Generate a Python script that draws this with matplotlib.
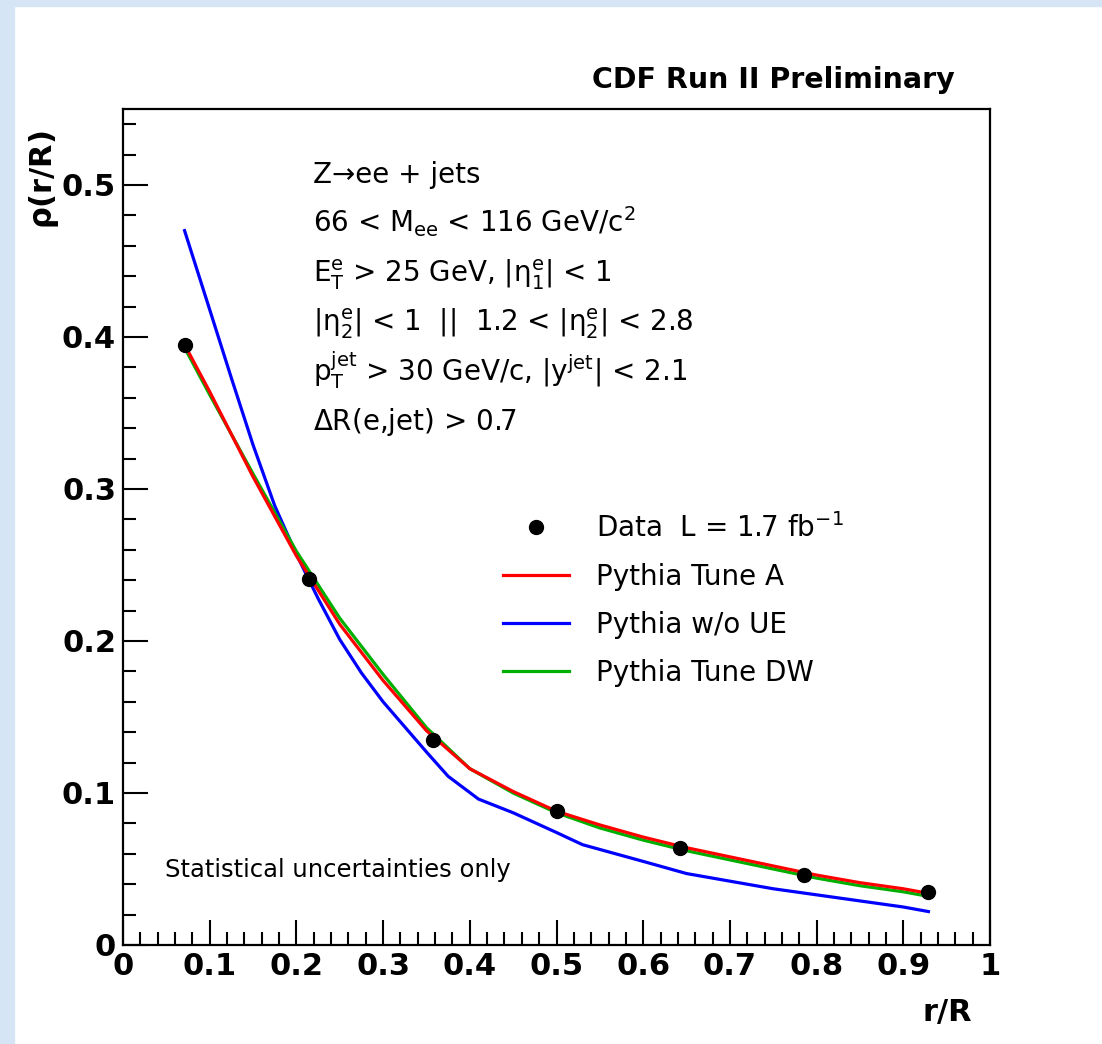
import matplotlib
matplotlib.use("Agg")
import matplotlib.pyplot as plt
from matplotlib.patches import Rectangle
from matplotlib.ticker import MultipleLocator

plt.rcParams['font.family'] = ['DejaVu Sans']
plt.rcParams['mathtext.fontset'] = 'dejavusans'
plt.rcParams['mathtext.default'] = 'regular'

# data points (bin centres of r/R)
data_x = [0.0714, 0.2143, 0.3571, 0.5, 0.6429, 0.7857, 0.9286]
data_y = [0.395, 0.241, 0.135, 0.088, 0.064, 0.046, 0.035]

# MC curves
mc_x = [0.071, 0.10, 0.15, 0.20, 0.25, 0.30, 0.35, 0.40, 0.45, 0.50,
        0.55, 0.60, 0.65, 0.70, 0.75, 0.80, 0.85, 0.90, 0.929]
tune_a = [0.395, 0.364, 0.308, 0.256, 0.211, 0.174, 0.141, 0.116, 0.101, 0.088,
          0.079, 0.071, 0.064, 0.058, 0.052, 0.046, 0.041, 0.037, 0.034]
tune_dw = [0.393, 0.362, 0.310, 0.259, 0.215, 0.178, 0.143, 0.116, 0.100, 0.087,
           0.077, 0.069, 0.062, 0.056, 0.050, 0.044, 0.039, 0.035, 0.032]

noue_x = [0.071, 0.10, 0.125, 0.15, 0.175, 0.20, 0.225, 0.25, 0.275, 0.30, 0.35,
          0.375, 0.41, 0.45, 0.50, 0.53, 0.60, 0.65, 0.70, 0.75, 0.80, 0.85,
          0.90, 0.929]
no_ue = [0.470, 0.418, 0.373, 0.329, 0.289, 0.257, 0.228, 0.201, 0.179, 0.160, 0.127,
         0.111, 0.096, 0.087, 0.074, 0.066, 0.055, 0.047, 0.042, 0.037, 0.033, 0.029,
         0.025, 0.022]

cuts = ["Z\u2192ee + jets",
        r"66 < M$_{ee}$ < 116 GeV/c$^{2}$",
        r"E$_{T}^{e}$ > 25 GeV, |$\eta_{1}^{e}$| < 1",
        r"|$\eta_{2}^{e}$| < 1  ||  1.2 < |$\eta_{2}^{e}$| < 2.8",
        r"p$_{T}^{jet}$ > 30 GeV/c, |y$^{jet}$| < 2.1",
        r"$\Delta$R(e,jet) > 0.7"]

fig = plt.figure(figsize=(11.02, 10.44), dpi=100)
fig.patch.set_facecolor('white')
# light blue page border (left and top)
fig.patches.append(Rectangle((0, 0), 14 / 1102, 1, transform=fig.transFigure,
                             color='#d5e5f6', zorder=0))
fig.patches.append(Rectangle((0, 1 - 6 / 1044), 1, 6 / 1044, transform=fig.transFigure,
                             color='#d5e5f6', zorder=0))

ax = fig.add_axes([123 / 1102, 99 / 1044, 867 / 1102, 836 / 1044])

ax.plot(mc_x, tune_a, color='#ff0000', lw=2.3, label='Pythia Tune A', zorder=3)
ax.plot(noue_x, no_ue, color='#0000ff', lw=2.3, label='Pythia w/o UE', zorder=2)
ax.plot(mc_x, tune_dw, color='#00b000', lw=2.3, label='Pythia Tune DW', zorder=2.5)
ax.plot(data_x, data_y, 'o', color='black', ms=10, label=r'Data  L = 1.7 fb$^{-1}$', zorder=4)

ax.set_xlim(0, 1)
ax.set_ylim(0, 0.55)
ax.xaxis.set_minor_locator(MultipleLocator(0.02))
ax.yaxis.set_minor_locator(MultipleLocator(0.02))
ax.set_xticks([0, 0.1, 0.2, 0.3, 0.4, 0.5, 0.6, 0.7, 0.8, 0.9, 1.0])
ax.set_xticklabels(['0', '0.1', '0.2', '0.3', '0.4', '0.5', '0.6', '0.7', '0.8', '0.9', '1'])
ax.set_yticks([0, 0.1, 0.2, 0.3, 0.4, 0.5])
ax.set_yticklabels(['0', '0.1', '0.2', '0.3', '0.4', '0.5'])
ax.tick_params(which='both', direction='in', top=False, right=False, width=1.5)
ax.tick_params(which='major', length=18, labelsize=22, pad=5)
ax.tick_params(which='minor', length=9.5)
for lab in ax.get_xticklabels() + ax.get_yticklabels():
    lab.set_fontweight('bold')
for sp in ax.spines.values():
    sp.set_linewidth(1.6)

ax.set_xlabel('r/R', fontsize=22, fontweight='bold', loc='right')
ax.xaxis.set_label_coords(0.979, -0.063)
ax.set_ylabel(r'$\rho$(r/R)', fontsize=22, fontweight='bold', loc='top')
ax.yaxis.set_label_coords(-0.072, 0.975)

fig.text(955 / 1102, 1 - 80 / 1044, 'CDF Run II Preliminary', fontsize=20.5,
         fontweight='bold', ha='right', va='center')

for i, line in enumerate(cuts):
    fig.text(313 / 1102, 1 - (183 + i * 49.4) / 1044, line, fontsize=20,
             ha='left', va='baseline')

ax.text(0.048, 0.081, 'Statistical uncertainties only', fontsize=17.5,
        va='baseline', transform=ax.transAxes)

handles, labels = ax.get_legend_handles_labels()
order = [3, 0, 1, 2]
ax.legend([handles[i] for i in order], [labels[i] for i in order],
          loc='upper left', bbox_to_anchor=(0.438, 0.517),
          frameon=False, fontsize=20, handlelength=2.4, handletextpad=0.95,
          labelspacing=0.72, borderpad=0, borderaxespad=0)

fig.savefig('out.png', dpi=100)
